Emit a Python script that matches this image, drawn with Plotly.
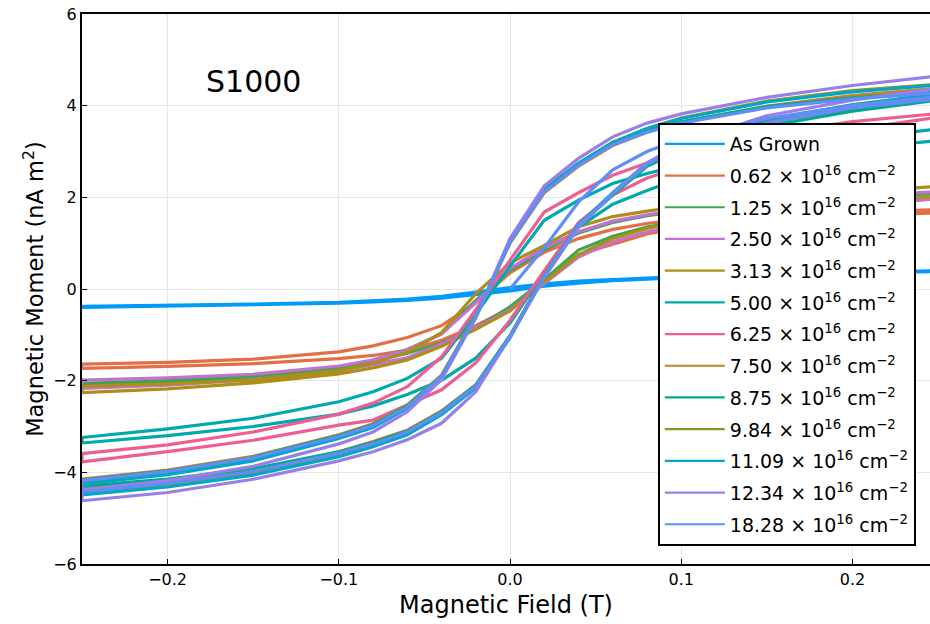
import plotly.graph_objects as go

# Field grid (T) for each branch, in ascending order
field = [-0.25, -0.2, -0.15, -0.1, -0.08, -0.06, -0.04, -0.02, 0.0,
         0.02, 0.04, 0.06, 0.08, 0.1, 0.15, 0.2, 0.25]

labels = ["As Grown",
          "0.62 × 10<sup>16</sup> cm<sup>−2</sup>",
          "1.25 × 10<sup>16</sup> cm<sup>−2</sup>",
          "2.50 × 10<sup>16</sup> cm<sup>−2</sup>",
          "3.13 × 10<sup>16</sup> cm<sup>−2</sup>",
          "5.00 × 10<sup>16</sup> cm<sup>−2</sup>",
          "6.25 × 10<sup>16</sup> cm<sup>−2</sup>",
          "7.50 × 10<sup>16</sup> cm<sup>−2</sup>",
          "8.75 × 10<sup>16</sup> cm<sup>−2</sup>",
          "9.84 × 10<sup>16</sup> cm<sup>−2</sup>",
          "11.09 × 10<sup>16</sup> cm<sup>−2</sup>",
          "12.34 × 10<sup>16</sup> cm<sup>−2</sup>",
          "18.28 × 10<sup>16</sup> cm<sup>−2</sup>"]

colors = ["#009AFA", "#E36F47", "#3EA44E", "#C371D2", "#AC8E18", "#00A9AD",
          "#ED5E93", "#C68225", "#00A98D", "#8E971D", "#00A7C6", "#9B7FE9",
          "#618DF6"]

# Descending branch (upper) values at each field point (listed in ascending field order)
upper = [
    [-0.38, -0.36, -0.33, -0.29, -0.26, -0.22, -0.16, -0.07, 0.03, 0.11, 0.17, 0.21, 0.24, 0.27, 0.32, 0.36, 0.40],
    [-1.64, -1.60, -1.53, -1.37, -1.24, -1.06, -0.80, -0.30, 0.35, 0.80, 1.10, 1.30, 1.43, 1.52, 1.62, 1.68, 1.73],
    [-2.06, -2.00, -1.90, -1.70, -1.55, -1.32, -0.98, -0.25, 0.40, 0.85, 1.22, 1.45, 1.60, 1.70, 1.88, 2.00, 2.08],
    [-1.99, -1.94, -1.86, -1.68, -1.55, -1.33, -0.98, -0.30, 0.45, 0.90, 1.25, 1.48, 1.62, 1.72, 1.90, 2.03, 2.12],
    [-2.12, -2.07, -1.98, -1.78, -1.62, -1.38, -0.95, -0.10, 0.57, 0.95, 1.36, 1.58, 1.70, 1.80, 1.98, 2.12, 2.24],
    [-3.24, -3.05, -2.82, -2.46, -2.24, -1.95, -1.51, -0.55, 0.50, 1.50, 1.94, 2.30, 2.52, 2.70, 3.02, 3.28, 3.49],
    [-3.59, -3.40, -3.12, -2.73, -2.49, -2.13, -1.48, -0.45, 0.63, 1.68, 2.10, 2.48, 2.75, 2.97, 3.38, 3.65, 3.83],
    [-4.15, -3.95, -3.65, -3.18, -2.94, -2.53, -1.88, -0.58, 1.00, 2.10, 2.68, 3.13, 3.42, 3.64, 3.99, 4.22, 4.38],
    [-4.17, -3.97, -3.67, -3.20, -2.96, -2.55, -1.90, -0.62, 1.08, 2.18, 2.74, 3.20, 3.45, 3.65, 3.98, 4.17, 4.30],
    [-4.22, -4.03, -3.72, -3.24, -3.00, -2.58, -1.92, -0.60, 1.02, 2.14, 2.72, 3.20, 3.50, 3.73, 4.10, 4.33, 4.47],
    [-4.25, -4.05, -3.75, -3.26, -3.02, -2.60, -1.93, -0.60, 1.04, 2.16, 2.74, 3.20, 3.50, 3.72, 4.08, 4.30, 4.45],
    [-4.38, -4.18, -3.87, -3.38, -3.12, -2.68, -1.98, -0.62, 1.10, 2.25, 2.85, 3.32, 3.62, 3.82, 4.18, 4.44, 4.65],
    [-4.18, -3.98, -3.68, -3.22, -2.98, -2.57, -1.91, -0.62, 1.03, 2.12, 2.70, 3.15, 3.42, 3.62, 3.95, 4.15, 4.28],
]

# Ascending branch (lower) values at each field point
lower = [
    [-0.40, -0.37, -0.34, -0.31, -0.28, -0.25, -0.20, -0.12, -0.04, 0.06, 0.13, 0.18, 0.22, 0.25, 0.30, 0.35, 0.38],
    [-1.73, -1.69, -1.63, -1.52, -1.45, -1.33, -1.12, -0.80, -0.42, 0.20, 0.75, 0.98, 1.20, 1.33, 1.50, 1.60, 1.66],
    [-2.10, -2.04, -1.95, -1.75, -1.58, -1.40, -1.18, -0.85, -0.39, 0.20, 0.85, 1.15, 1.35, 1.48, 1.70, 1.86, 1.98],
    [-2.17, -2.10, -1.98, -1.78, -1.65, -1.50, -1.20, -0.85, -0.45, 0.12, 0.70, 1.03, 1.25, 1.40, 1.65, 1.82, 1.97],
    [-2.26, -2.18, -2.05, -1.85, -1.72, -1.55, -1.25, -0.88, -0.48, 0.15, 0.75, 1.10, 1.32, 1.48, 1.72, 1.90, 2.02],
    [-3.36, -3.20, -3.00, -2.73, -2.55, -2.30, -1.99, -1.51, -0.74, 0.35, 1.35, 1.85, 2.15, 2.42, 2.82, 3.06, 3.24],
    [-3.77, -3.55, -3.30, -2.97, -2.86, -2.53, -2.20, -1.61, -0.68, 0.40, 1.45, 2.05, 2.42, 2.65, 3.12, 3.48, 3.75],
    [-4.35, -4.19, -3.94, -3.55, -3.33, -3.08, -2.66, -2.09, -1.02, 0.32, 1.38, 2.06, 2.70, 3.06, 3.61, 3.93, 4.15],
    [-4.30, -4.15, -3.92, -3.55, -3.35, -3.10, -2.68, -2.10, -1.02, 0.30, 1.38, 2.05, 2.68, 3.02, 3.55, 3.88, 4.12],
    [-4.45, -4.28, -4.03, -3.63, -3.42, -3.17, -2.72, -2.15, -1.05, 0.28, 1.38, 2.08, 2.73, 3.12, 3.68, 4.02, 4.25],
    [-4.49, -4.32, -4.06, -3.66, -3.44, -3.18, -2.74, -2.16, -1.06, 0.28, 1.40, 2.10, 2.75, 3.13, 3.70, 4.02, 4.25],
    [-4.62, -4.44, -4.15, -3.75, -3.55, -3.29, -2.93, -2.24, -1.04, 0.25, 1.35, 2.08, 2.75, 3.18, 3.78, 4.12, 4.38],
    [-4.42, -4.24, -3.98, -3.58, -3.38, -3.12, -2.70, -2.12, -1.04, 0.28, 1.38, 2.08, 2.72, 3.08, 3.62, 3.95, 4.15],
]

# Initial (virgin) magnetisation curve of the last sample
virgin_field = [0.0, 0.02, 0.04, 0.06, 0.08, 0.1, 0.15, 0.2, 0.25]
virgin_18 = [0.0, 0.9, 1.9, 2.6, 3.0, 3.28, 3.72, 4.0, 4.2]

xticks = [-0.2, -0.1, 0.0, 0.1, 0.2]
xticklabels = ["−0.2", "−0.1", "0.0", "0.1", "0.2"]
yticks = [-6, -4, -2, 0, 2, 4, 6]
yticklabels = ["−6", "−4", "−2", "0", "2", "4", "6"]

FONT = "DejaVu Sans"
fig = go.Figure()

for i in range(len(labels)):
    xs = list(reversed(field)) + field
    ys = list(reversed(upper[i])) + lower[i]
    if i == len(labels) - 1:
        xs = virgin_field + xs
        ys = virgin_18 + ys
    fig.add_trace(go.Scatter(x=xs, y=ys, mode="lines",
                             line=dict(color=colors[i], width=3.2),
                             showlegend=False, hoverinfo="skip"))

for i in range(len(labels)):
    fig.add_trace(go.Scatter(x=[None], y=[None], mode="lines", name=labels[i],
                             legendgroup=str(i),
                             line=dict(color=colors[i], width=2.2)))

fig.add_annotation(x=-0.150, y=4.52, text="S1000", showarrow=False,
                   font=dict(family=FONT, size=30, color="black"))

fig.update_layout(
    width=930, height=624,
    margin=dict(l=82, r=0, t=14, b=60),
    paper_bgcolor="white", plot_bgcolor="white",
    font=dict(family=FONT, color="black"),
    xaxis=dict(range=[-0.25, 0.2453], tickvals=xticks, ticktext=xticklabels,
               tickfont=dict(size=16), showgrid=True, gridcolor="#e6e6e6", gridwidth=1,
               zeroline=False, showline=True, linecolor="black", linewidth=2,
               mirror=True, ticks="inside", ticklen=5, tickcolor="black",
               title=dict(text="Magnetic Field (T)", font=dict(size=24), standoff=8)),
    yaxis=dict(range=[-6, 6], tickvals=yticks, ticktext=yticklabels,
               tickfont=dict(size=16), showgrid=True, gridcolor="#e6e6e6", gridwidth=1,
               zeroline=False, showline=True, linecolor="black", linewidth=2,
               ticks="inside", ticklen=5, tickcolor="black",
               title=dict(text="Magnetic Moment (nA m<sup>2</sup>)", font=dict(size=22.5), standoff=3)),
    legend=dict(x=0.679, y=0.8018, xanchor="left", yanchor="top",
                bgcolor="white", bordercolor="black", borderwidth=2,
                font=dict(family=FONT, size=19), tracegroupgap=4, itemwidth=60),
)

fig.write_html("out.html")
